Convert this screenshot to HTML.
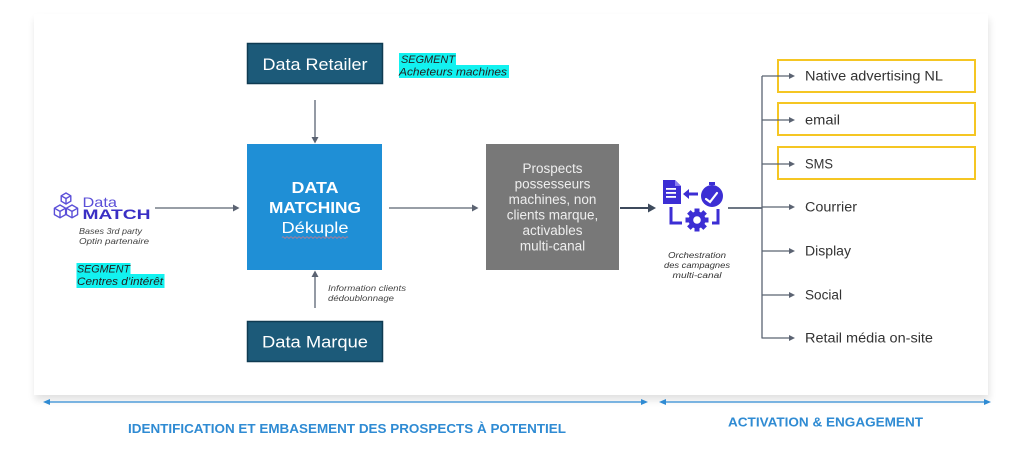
<!DOCTYPE html>
<html><head><meta charset="utf-8"><style>
html,body{margin:0;padding:0;background:#fff;}
svg{display:block;}
text{font-family:"Liberation Sans",Arial,sans-serif;}
</style></head><body>
<svg width="1024" height="452" viewBox="0 0 1024 452" xmlns="http://www.w3.org/2000/svg">
<defs>
<filter id="sh" x="-5%" y="-5%" width="110%" height="120%">
<feGaussianBlur in="SourceAlpha" stdDeviation="4"/>
<feOffset dx="1" dy="5" result="b"/>
<feComponentTransfer><feFuncA type="linear" slope="0.12"/></feComponentTransfer>
<feMerge><feMergeNode/><feMergeNode in="SourceGraphic"/></feMerge>
</filter>
</defs>
<rect x="0" y="0" width="1024" height="452" fill="#fff"/>
<rect x="34" y="14" width="954" height="381" fill="#fff" filter="url(#sh)"/>

<!-- Data Retailer -->
<rect x="247.5" y="43.5" width="135" height="40" fill="#1c5a79" stroke="#0f3b52" stroke-width="1.5"/>
<text x="315" y="70" font-size="17" fill="#fff" text-anchor="middle" textLength="105" lengthAdjust="spacingAndGlyphs">Data Retailer</text>

<!-- Segment retailer -->
<rect x="399" y="53" width="57" height="12" fill="#12f2f0"/>
<rect x="399" y="65" width="110" height="13" fill="#12f2f0"/>
<text x="401" y="63" font-size="11" font-style="italic" fill="#222" textLength="54" lengthAdjust="spacingAndGlyphs">SEGMENT</text>
<text x="399" y="75.5" font-size="11" font-style="italic" fill="#222" textLength="108" lengthAdjust="spacingAndGlyphs">Acheteurs machines</text>

<!-- arrow down -->
<line x1="315" y1="100" x2="315" y2="138" stroke="#5b6372" stroke-width="1.3"/>
<polygon points="311.5,137 318.5,137 315,143.5" fill="#5b6372"/>

<!-- DATA MATCHING -->
<rect x="247" y="144" width="135" height="126" fill="#1f8fd6"/>
<text x="315" y="193" font-size="15.5" font-weight="bold" fill="#fff" text-anchor="middle" textLength="47" lengthAdjust="spacingAndGlyphs">DATA</text>
<text x="315" y="213" font-size="15.5" font-weight="bold" fill="#fff" text-anchor="middle" textLength="92" lengthAdjust="spacingAndGlyphs">MATCHING</text>
<text x="315" y="233" font-size="15.5" fill="#fff" text-anchor="middle" textLength="67" lengthAdjust="spacingAndGlyphs">Dékuple</text>
<path d="M282,237.5 q1,-1.5 2,0 t2,0 t2,0 t2,0 t2,0 t2,0 t2,0 t2,0 t2,0 t2,0 t2,0 t2,0 t2,0 t2,0 t2,0 t2,0 t2,0 t2,0 t2,0 t2,0 t2,0 t2,0 t2,0 t2,0 t2,0 t2,0 t2,0 t2,0 t2,0 t2,0 t2,0 t2,0 t2,0" fill="none" stroke="#c77a8a" stroke-width="0.8"/>

<!-- arrow up -->
<line x1="315" y1="308" x2="315" y2="276" stroke="#5b6372" stroke-width="1.3"/>
<polygon points="311.5,277 318.5,277 315,270.5" fill="#5b6372"/>
<text x="328" y="291" font-size="8" font-style="italic" fill="#444" textLength="78" lengthAdjust="spacingAndGlyphs">Information clients</text>
<text x="328" y="301" font-size="8" font-style="italic" fill="#444" textLength="66" lengthAdjust="spacingAndGlyphs">dédoublonnage</text>

<!-- Data Marque -->
<rect x="247.5" y="321.5" width="135" height="40" fill="#1c5a79" stroke="#0f3b52" stroke-width="1.5"/>
<text x="315" y="347.5" font-size="17" fill="#fff" text-anchor="middle" textLength="106" lengthAdjust="spacingAndGlyphs">Data Marque</text>

<!-- Data Match logo -->
<g fill="none" stroke="#5b4fd8" stroke-width="1.4" stroke-linejoin="round">
<polygon points="66,193 70.8,195.8 70.8,201.2 66,204 61.2,201.2 61.2,195.8"/>
<path d="M66,204 V198.5 M61.2,195.8 L66,198.5 L70.8,195.8"/>
<polygon points="60,205 65.6,208.2 65.6,214.6 60,217.8 54.4,214.6 54.4,208.2"/>
<path d="M60,217.8 V211.4 M54.4,208.2 L60,211.4 L65.6,208.2"/>
<polygon points="72,205 77.6,208.2 77.6,214.6 72,217.8 66.4,214.6 66.4,208.2"/>
<path d="M72,217.8 V211.4 M66.4,208.2 L72,211.4 L77.6,208.2"/>
</g>
<text x="82.5" y="207" font-size="14" fill="#5b4fd8" textLength="34.5" lengthAdjust="spacingAndGlyphs">Data</text>
<text x="82.5" y="219" font-size="13.5" font-weight="bold" fill="#3a2fc4" textLength="68" lengthAdjust="spacingAndGlyphs">MATCH</text>

<line x1="155" y1="208" x2="234" y2="208" stroke="#5b6372" stroke-width="1.3"/>
<polygon points="233,204.5 233,211.5 239.5,208" fill="#5b6372"/>

<text x="79" y="234" font-size="8.5" font-style="italic" fill="#444" textLength="63" lengthAdjust="spacingAndGlyphs">Bases 3rd party</text>
<text x="79" y="244" font-size="8.5" font-style="italic" fill="#444" textLength="70" lengthAdjust="spacingAndGlyphs">Optin partenaire</text>

<rect x="76.5" y="263" width="54" height="11" fill="#12f2f0"/>
<rect x="76.5" y="274" width="88" height="14" fill="#12f2f0"/>
<text x="77" y="272.5" font-size="11" font-style="italic" fill="#222" textLength="53" lengthAdjust="spacingAndGlyphs">SEGMENT</text>
<text x="77" y="285" font-size="11" font-style="italic" fill="#222" textLength="86" lengthAdjust="spacingAndGlyphs">Centres d’intérêt</text>

<!-- arrow to prospects -->
<line x1="389" y1="208" x2="473" y2="208" stroke="#5b6372" stroke-width="1.3"/>
<polygon points="472,204.5 472,211.5 478.5,208" fill="#5b6372"/>

<!-- Prospects box -->
<rect x="486" y="144" width="133" height="126" fill="#787878"/>
<g font-size="13.5" fill="#eeeeee" text-anchor="middle">
<text x="552.5" y="173">Prospects</text>
<text x="552.5" y="188.5">possesseurs</text>
<text x="552.5" y="204">machines, non</text>
<text x="552.5" y="219.5">clients marque,</text>
<text x="552.5" y="235">activables</text>
<text x="552.5" y="250.5">multi-canal</text>
</g>

<line x1="620" y1="208" x2="649" y2="208" stroke="#3d4a5c" stroke-width="2"/>
<polygon points="648,203.5 648,212.5 656,208" fill="#3d4a5c"/>

<!-- Orchestration icon -->
<g fill="#3c2ed4">
<path d="M663,180 H675 L681,186 V204 H663 Z"/>
<path d="M675,180 V186 H681 Z" fill="#8a80f0"/>
</g>
<g fill="#fff">
<rect x="666" y="188" width="10" height="1.8"/>
<rect x="666" y="192" width="10" height="1.8"/>
<rect x="666" y="196" width="10" height="1.8"/>
</g>
<line x1="698" y1="194" x2="688" y2="194" stroke="#3c2ed4" stroke-width="3"/>
<polygon points="683,194 689,189 689,199" fill="#3c2ed4"/>
<circle cx="712" cy="196" r="11" fill="#3c2ed4"/>
<rect x="709" y="182" width="6" height="3" fill="#3c2ed4"/>
<path d="M706,199 L710,202 L717,193" fill="none" stroke="#fff" stroke-width="2.2" stroke-linecap="round"/>
<g transform="translate(697,220)" fill="#3c2ed4">
<circle r="8.5"/>
<rect x="-2.5" y="-11.5" width="5" height="23"/>
<rect x="-2.5" y="-11.5" width="5" height="23" transform="rotate(45)"/>
<rect x="-2.5" y="-11.5" width="5" height="23" transform="rotate(90)"/>
<rect x="-2.5" y="-11.5" width="5" height="23" transform="rotate(135)"/>
<circle r="3.8" fill="#fff"/>
</g>
<path d="M671,207 V223 H682" fill="none" stroke="#3c2ed4" stroke-width="3"/>
<path d="M718,209 V223 H712" fill="none" stroke="#3c2ed4" stroke-width="3"/>

<g font-size="8" font-style="italic" fill="#333" text-anchor="middle">
<text x="697" y="258" textLength="58" lengthAdjust="spacingAndGlyphs">Orchestration</text>
<text x="697" y="268" textLength="66" lengthAdjust="spacingAndGlyphs">des campagnes</text>
<text x="697" y="278" textLength="49" lengthAdjust="spacingAndGlyphs">multi-canal</text>
</g>

<!-- channel tree -->
<line x1="728" y1="208" x2="762" y2="208" stroke="#3d4a5c" stroke-width="1.6"/>
<line x1="762" y1="76" x2="762" y2="338.5" stroke="#5b6372" stroke-width="1.3"/>

<g fill="none" stroke="#f5c623" stroke-width="2">
<rect x="778" y="60" width="197" height="32"/>
<rect x="778" y="103" width="197" height="32"/>
<rect x="778" y="147" width="197" height="32"/>
</g>

<g stroke="#5b6372" stroke-width="1.3">
<line x1="762" y1="76" x2="790" y2="76"/>
<line x1="762" y1="120" x2="790" y2="120"/>
<line x1="762" y1="164" x2="790" y2="164"/>
<line x1="762" y1="207" x2="790" y2="207"/>
<line x1="762" y1="251" x2="790" y2="251"/>
<line x1="762" y1="295" x2="790" y2="295"/>
<line x1="762" y1="338" x2="790" y2="338"/>
</g>
<g fill="#5b6372">
<polygon points="789,73 789,79 795,76"/>
<polygon points="789,117 789,123 795,120"/>
<polygon points="789,161 789,167 795,164"/>
<polygon points="789,204 789,210 795,207"/>
<polygon points="789,248 789,254 795,251"/>
<polygon points="789,292 789,298 795,295"/>
<polygon points="789,335 789,341 795,338"/>
</g>
<g font-size="13.5" fill="#333">
<text x="805" y="80.5" textLength="138" lengthAdjust="spacingAndGlyphs">Native advertising NL</text>
<text x="805" y="124.5" textLength="35" lengthAdjust="spacingAndGlyphs">email</text>
<text x="805" y="168.5" textLength="28" lengthAdjust="spacingAndGlyphs">SMS</text>
<text x="805" y="211.5" textLength="52" lengthAdjust="spacingAndGlyphs">Courrier</text>
<text x="805" y="255.5" textLength="46" lengthAdjust="spacingAndGlyphs">Display</text>
<text x="805" y="299.5" textLength="37" lengthAdjust="spacingAndGlyphs">Social</text>
<text x="805" y="342.5" textLength="128" lengthAdjust="spacingAndGlyphs">Retail média on-site</text>
</g>

<!-- bottom arrows -->
<g stroke="#2f8bd3" stroke-width="1.2">
<line x1="48" y1="402" x2="644" y2="402"/>
<line x1="664" y1="402" x2="986" y2="402"/>
</g>
<g fill="#2f8bd3">
<polygon points="43,402 50,399 50,405"/>
<polygon points="648,402 641,399 641,405"/>
<polygon points="659,402 666,399 666,405"/>
<polygon points="991,402 984,399 984,405"/>
</g>
<text x="128" y="433" font-size="12.5" font-weight="bold" fill="#2f8bd3" textLength="438" lengthAdjust="spacingAndGlyphs">IDENTIFICATION ET EMBASEMENT DES PROSPECTS À POTENTIEL</text>
<text x="728" y="426.5" font-size="12.5" font-weight="bold" fill="#2f8bd3" textLength="195" lengthAdjust="spacingAndGlyphs">ACTIVATION &amp; ENGAGEMENT</text>
</svg>
</body></html>
